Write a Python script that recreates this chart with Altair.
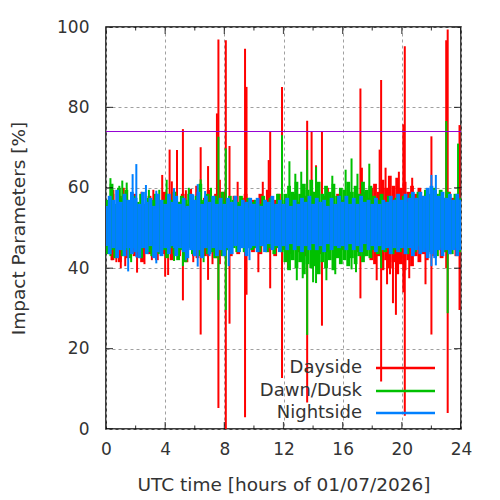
import altair as alt
import pandas as pd

# ---------------- data ----------------
series_names = ["Dayside", "Dawn/Dusk", "Nightside"]
series_colors = ["#ff0000", "#00c000", "#0080ff"]

step_hours = 0.25          # band samples every quarter hour
band_shift = [0.1875, 0.125, 0.0]   # sample phase of each series (red, green, blue)

red_hi = [56, 58.5, 55.5, 58, 56.5, 57, 55.5, 58.5,
          56, 57.5, 55, 58, 56, 57.5, 56.5, 59,
          57.5, 56, 59, 56.5, 58.5, 56, 59.5, 57,
          58, 56.5, 57.5, 59.5, 56, 58.5, 57, 59,
          57, 55.5, 58, 56, 57.5, 58.5, 56, 57,
          56, 58.5, 57, 59.5, 56.5, 57, 58.5, 56,
          57.5, 56, 58.5, 56.5, 57, 58, 56, 59,
          57.5, 56, 58, 56.5, 57.5, 56, 58.5, 57,
          56.5, 58, 56, 58.5, 57, 59, 57.5, 60,
          61, 59, 62, 60, 63, 60.5, 62.5, 60,
          61.5, 59, 60.5, 58.5, 60, 58, 59.5, 58,
          59, 57.5, 58.5, 57, 59, 57.5, 58, 57, 58.5]
red_lo = [44, 42, 45, 41.5, 44.5, 42.5, 45, 43,
          44.5, 41.5, 45, 43.5, 44, 42, 45.5, 43.5,
          44, 42, 45, 43, 44.5, 41.5, 45, 43,
          42.5, 45, 43, 45.5, 44, 42.5, 45, 43.5,
          44.5, 43, 45.5, 43.5, 45, 44, 45.5, 44,
          45, 43.5, 45.5, 44, 45, 43, 45.5, 44.5,
          45, 43.5, 45.5, 44, 45, 43, 45.5, 44,
          45.5, 43.5, 45, 44, 45.5, 43.5, 45, 44.5,
          45, 43.5, 45.5, 44, 45, 43, 44.5, 42,
          41, 43, 39.5, 42, 40, 41.5, 38.5, 41,
          39.5, 42, 40.5, 43, 41.5, 43.5, 42, 44,
          43, 44.5, 42.5, 44, 43.5, 45, 43, 44.5, 43.5]

green_hi = [57, 61, 56, 60, 57.5, 59.5, 56, 58,
            56.5, 58.5, 56, 57.5, 57, 58.5, 56.5, 57,
            58.5, 57, 59, 56.5, 58, 57, 58.5, 56,
            58, 61, 57, 58.5, 56.5, 58, 57, 59,
            56.5, 58, 57, 56.5, 58, 56, 57.5, 56.5,
            57, 56, 58, 56.5, 57.5, 56, 58.5, 57,
            58.5, 60.5, 59, 61.5, 58.5, 61, 59.5, 62,
            59, 61.5, 58.5, 60.5, 59, 61, 58, 60,
            59.5, 61.5, 59, 60.5, 58.5, 61.5, 59.5, 60.5,
            58, 57, 58.5, 56.5, 58, 56.5, 57.5, 57,
            58, 56.5, 58.5, 57, 59, 57.5, 59.5, 58.5,
            60, 58.5, 59.5, 57.5, 59, 57, 58.5, 57.5, 58.5]
green_lo = [43.5, 44.5, 42.5, 45, 43, 44.5, 42.5, 45,
            44, 42.5, 45, 44, 43, 45, 43.5, 44.5,
            42.5, 45, 43.5, 42, 44.5, 41.5, 45, 43.5,
            44.5, 43, 45, 43.5, 44, 42.5, 45, 43,
            44.5, 43.5, 45, 44, 45.5, 44, 45, 44.5,
            45, 44, 45.5, 44, 45, 43.5, 45, 44,
            41.5, 39.5, 42, 40, 41.5, 38.5, 41, 40,
            40.5, 38.5, 41.5, 40, 42, 39.5, 42.5, 41,
            42, 40.5, 42.5, 41, 43, 41.5, 43, 42.5,
            44.5, 43.5, 45, 44, 45, 43.5, 44.5, 44,
            45, 43.5, 45, 44, 45.5, 44.5, 45, 44,
            44.5, 43, 45, 44, 44.5, 43.5, 45, 44, 44.5]

blue_hi = [55.5, 58, 57, 59.5, 56.5, 58.5, 57, 59,
           57.5, 56, 59, 56.5, 57.5, 55.5, 58.5, 57,
           56, 58.5, 56.5, 58, 56, 57.5, 55.5, 58.5,
           57, 59, 56, 58, 56.5, 58, 56, 57.5,
           56, 57.5, 56.5, 58, 55.5, 57, 56.5, 57.5,
           56, 57.5, 55.5, 57, 56.5, 58, 56, 57,
           56, 57.5, 55.5, 57, 56, 57.5, 56.5, 58,
           56, 57.5, 56.5, 57, 55.5, 57.5, 56, 58,
           56.5, 58, 56, 57.5, 56, 58, 56.5, 57,
           56, 57.5, 56, 57, 56.5, 58, 57, 58.5,
           57, 58.5, 57.5, 59, 57.5, 59, 58, 60,
           60.5, 59.5, 58, 59, 57.5, 58.5, 57, 58.5, 57]
blue_lo = [45.5, 43.5, 45, 42.5, 44.5, 43, 45, 43.5,
           44, 42.5, 45, 43.5, 45.5, 42.5, 44, 43,
           45, 43.5, 45.5, 43, 45, 44, 42.5, 44.5,
           43, 44.5, 42.5, 45, 43.5, 45, 43, 44.5,
           43, 45, 43.5, 45.5, 44, 45, 43, 45,
           45.5, 44, 45.5, 44, 46, 44.5, 45.5, 44,
           45.5, 44.5, 46, 44.5, 45.5, 44, 45.5, 44.5,
           46, 44.5, 45.5, 44, 46, 44.5, 45.5, 45,
           45.5, 44.5, 46, 44.5, 45.5, 44, 46, 44.5,
           45.5, 44, 45.5, 44.5, 45, 43.5, 45, 44,
           45, 43.5, 45, 43, 44.5, 43.5, 44, 42.5,
           43.5, 42.5, 44.5, 43, 44.5, 43.5, 44.5, 43, 44.5]

# individual excursions: time [h], lowest and highest value
red_spike_t = [0.4, 0.5, 0.7, 1.0, 1.2, 1.3, 2.1, 2.4, 2.6, 3.1, 3.2, 3.8, 4.0, 4.2,
               4.3, 4.45, 4.8, 5.2, 5.4, 5.75, 5.9, 6.1, 6.4, 6.9, 7.2,
               7.5, 7.6, 7.7, 8.1, 8.35, 8.9, 9.4, 9.5, 10.3, 10.6, 11.0, 11.1,
               11.9, 12.3, 13.6, 13.9, 14.2, 14.6, 15.0, 17.2, 17.3, 18.3, 18.5, 18.6,
               18.9, 19.0, 19.2, 19.4, 19.6, 19.8, 20.1, 20.2, 20.5, 20.7, 21.6, 22.0,
               23.0, 23.1, 23.9]
red_spike_lo = [42, 48, 41.5, 40, 48, 40.5, 38.9, 48, 41, 42, 48, 48, 37.9, 38.3,
                50, 50, 50, 32, 50, 50, 41.5, 48, 23.5, 37.1, 41,
                50, 5.2, 41, 0, 26.2, 45, 2.9, 33.4, 39, 48, 45, 35,
                12.7, 40, 6.6, 45, 45, 25.7, 45, 32.5, 45, 37, 45, 11.8,
                48, 36, 38.5, 31.3, 28.4, 48, 34, 3.3, 37.5, 48, 36, 23.5,
                40, 4, 29.6]
red_spike_hi = [52, 59.5, 52, 52, 60, 52, 52, 59, 52, 52, 59.5, 63.2, 52, 52,
                69.5, 61.6, 69.4, 74.6, 59.4, 59.7, 52, 60.5, 70.1, 65.4, 52,
                78.5, 96.9, 62, 96.7, 70.4, 61.5, 94.6, 85.1, 52, 61.5, 66.9, 73.9,
                85.1, 52, 76.7, 73.9, 65.6, 73.9, 60, 84.7, 65, 52, 69.5, 86.8,
                65, 52, 52, 52, 52, 64, 75.8, 95.2, 52, 62.5, 52, 72.8,
                96.7, 99.4, 75.6]

green_spike_t = [0.3, 0.9, 1.1, 1.4, 1.7, 2.9, 3.6, 4.1, 4.6, 5.2, 5.6, 6.4, 6.6, 7.1,
                 7.6, 8.1, 11.9, 12.4, 12.8, 12.9, 13.2, 13.3, 13.6, 14.0, 14.2, 14.9,
                 15.3, 15.5, 16.2, 16.6, 16.9, 17.0, 17.8, 18.6, 23.0, 23.1, 23.8]
green_spike_lo = [43, 48, 45, 45, 41.5, 48, 48, 45, 41.8, 40.5, 48, 45, 41.5, 48,
                  32.1, 29.6, 45, 45, 48, 37, 48, 37.5, 23.4, 36.5, 36.3, 37,
                  48, 38.5, 48, 39.7, 39, 48, 45, 40, 45, 28.8, 45]
green_spike_hi = [62.4, 60.5, 61.8, 61.3, 52, 59.5, 59.5, 62, 52, 55, 60, 62.1, 52, 60,
                  72.7, 69.8, 73.1, 66.6, 63.5, 52, 64, 52, 69.4, 52, 65.2, 52,
                  63, 52, 64.5, 67.3, 52, 63.5, 66, 55, 76.6, 55, 71]

blue_spike_t = [1.5, 1.8, 2.05, 2.7, 3.4, 4.6, 5.4, 5.9, 6.2, 6.7, 7.0, 8.3, 9.7,
                22.0, 22.3]
blue_spike_lo = [39.2, 45, 42.7, 45, 41.2, 45, 42, 45, 40.4, 45, 43, 40.5, 42,
                 40.5, 40.7]
blue_spike_hi = [55, 63.4, 65.9, 60.7, 59.3, 59.9, 55, 58.4, 60.9, 59.2, 55, 55, 55,
                 63.2, 63.2]

threshold = [74]

x_major = [0, 4, 8, 12, 16, 20, 24]
x_minor = [2, 6, 10, 14, 18, 22]
y_major = [0, 20, 40, 60, 80, 100]

x_title = "UTC time [hours of 01/07/2026]"
y_title = "Impact Parameters [%]"

# ---------------- chart ----------------
W, H = 355, 402
FONT = "DejaVu Sans"
TXT = "#333333"
TITLE_SIZE = 18.5

xs = alt.Scale(domain=[0, 24], nice=False, zero=False)
ys = alt.Scale(domain=[0, 100], nice=False, zero=False)


def band_df(hi, lo, shift):
    return pd.DataFrame({"t": [k * step_hours + shift for k in range(len(hi))],
                         "lo": lo, "hi": hi})


def spike_df(t, lo, hi):
    return pd.DataFrame({"t": t, "lo": lo, "hi": hi})


bands = [(red_hi, red_lo), (green_hi, green_lo), (blue_hi, blue_lo)]
spikes = [(red_spike_t, red_spike_lo, red_spike_hi),
          (green_spike_t, green_spike_lo, green_spike_hi),
          (blue_spike_t, blue_spike_lo, blue_spike_hi)]

layers = []

# axis/grid carrier
axis_layer = alt.Chart(pd.DataFrame({"v": y_major})).mark_point(opacity=0).encode(
    x=alt.X("v:Q", scale=xs, title=x_title,
            axis=alt.Axis(values=x_major, grid=True, gridDash=[3, 3], gridColor="#a0a0a0",
                          gridWidth=1, domain=False, tickSize=0, labelPadding=12,
                          labelFlush=False, labelOverlap=False,
                          titleY=55, titleBaseline="middle")),
    y=alt.Y("v:Q", scale=ys, title=y_title,
            axis=alt.Axis(values=y_major, grid=True, gridDash=[3, 3], gridColor="#a0a0a0",
                          gridWidth=1, domain=False, tickSize=0, labelPadding=17,
                          labelFlush=False, labelOverlap=False,
                          titleX=-88, titleBaseline="middle")),
)
layers.append(axis_layer)

for (hi, lo), shift, (st, slo, shi), col in zip(bands, band_shift, spikes, series_colors):
    layers.append(
        alt.Chart(band_df(hi, lo, shift)).mark_rule(color=col, strokeWidth=3.8, clip=True).encode(
            x=alt.X("t:Q", scale=xs), y=alt.Y("lo:Q", scale=ys), y2="hi:Q")
    )
    layers.append(
        alt.Chart(spike_df(st, slo, shi)).mark_rule(color=col, strokeWidth=2, clip=True).encode(
            x=alt.X("t:Q", scale=xs), y=alt.Y("lo:Q", scale=ys), y2="hi:Q")
    )

# threshold line
layers.append(
    alt.Chart(pd.DataFrame({"y": threshold})).mark_rule(color="#9400d3", strokeWidth=1).encode(
        y=alt.Y("y:Q", scale=ys))
)

# inward ticks on all four sides
for vals, size in [(x_major, 14), (x_minor, 7)]:
    for edge in (0, 100):
        layers.append(
            alt.Chart(pd.DataFrame({"t": vals})).mark_tick(
                orient="vertical", size=size, thickness=1.2, color="black", clip=True
            ).encode(x=alt.X("t:Q", scale=xs), y=alt.datum(edge, scale=ys))
        )
for edge in (0, 24):
    layers.append(
        alt.Chart(pd.DataFrame({"v": y_major})).mark_tick(
            orient="horizontal", size=14, thickness=1.2, color="black", clip=True
        ).encode(y=alt.Y("v:Q", scale=ys), x=alt.datum(edge, scale=xs))
    )

# legend (inside, bottom right): label then line sample
legend_rows = [341, 364, 386]
for name, col, yy in zip(series_names, series_colors, legend_rows):
    ldf = pd.DataFrame({"name": [name]})
    layers.append(
        alt.Chart(ldf).mark_text(align="right", baseline="middle", fontSize=18,
                                 font=FONT, color=TXT).encode(
            x=alt.value(256), y=alt.value(yy), text="name:N")
    )
    layers.append(
        alt.Chart(ldf).mark_rule(color=col, strokeWidth=2.5).encode(
            x=alt.value(270), x2=alt.value(329), y=alt.value(yy))
    )

chart = alt.layer(*layers).properties(
    width=W, height=H,
    autosize=alt.AutoSizeParams(type="none"),
    padding={"left": 98, "top": 19, "right": 20, "bottom": 70},
).configure_view(
    stroke="black", strokeWidth=1.5
).configure_axis(
    labelFont=FONT, labelFontSize=17, labelColor=TXT,
    titleFont=FONT, titleFontSize=TITLE_SIZE, titleColor=TXT, titleFontWeight="normal",
)

chart.save("out.html", embed_options={"renderer": "svg", "actions": False})
